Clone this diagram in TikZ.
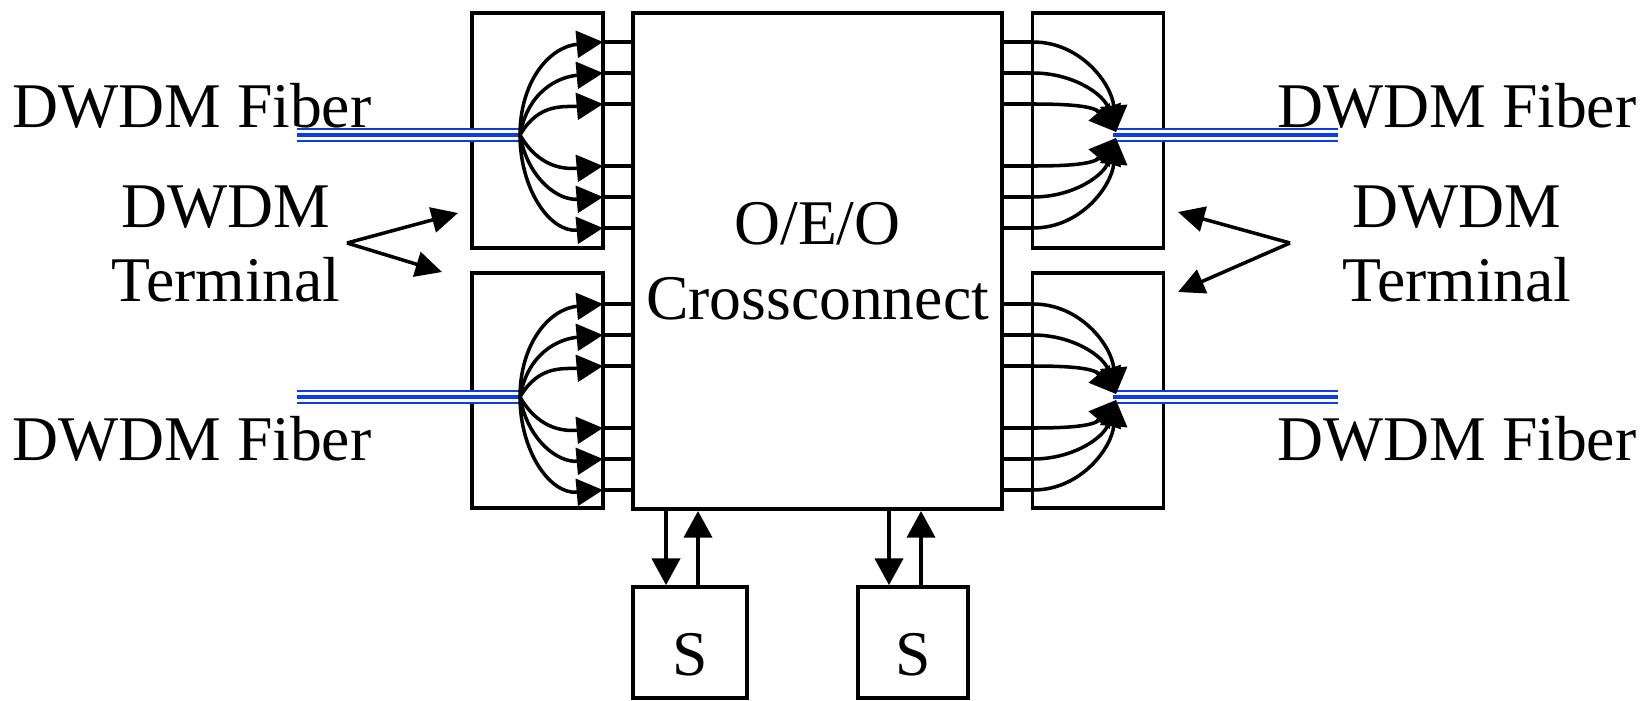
\documentclass[tikz,border=0pt]{standalone}
\usepackage{fontspec}
\setmainfont{Liberation Serif}
\usetikzlibrary{arrows.meta, calc}
\definecolor{FIblue}{HTML}{0A3DE6}
\tikzset{
  tbox/.style={rectangle, draw, line width=1.05pt, minimum width=1.31cm,
    minimum height=2.35cm, inner sep=0pt},
  oxcbox/.style={rectangle, draw, line width=1.05pt, minimum width=3.69cm,
    minimum height=4.96cm, align=center, inner sep=0pt},
  sbox/.style={rectangle, draw, line width=1.05pt, minimum height=1.11cm,
    text height=0.65cm, text depth=0pt, inner sep=0pt},
  lbl/.style={inner sep=0pt},
  fiber/.style={draw=FIblue, line width=4.2pt,
    postaction={draw=white, line width=2.75pt},
    postaction={draw=FIblue, line width=1.4pt}},
  portln/.style={line width=1.05pt},
  fanarr/.style={-{Triangle[length=7.5pt,width=7.6pt]}, line width=1pt},
  sarr/.style={-{Triangle[length=7.6pt,width=8pt]}, line width=1.05pt},
  lblarr/.style={-{Triangle[length=7.5pt,width=7.2pt]}, line width=1pt},
}

\begin{document}
\begin{tikzpicture}[x=0.01cm, y=-0.01cm, font=\fontsize{18.1pt}{21.3pt}\selectfont]
  \useasboundingbox (0,0) rectangle (1652,700);
  \node[oxcbox] (oxc) at (817.5,261) {O/E/O\\Crossconnect};
  \node[tbox] (tlu) at (537.5,130.5) {};
  \node[tbox] (tll) at (537.5,390.5) {};
  \node[tbox] (tru) at (1098,130.5) {};
  \node[tbox] (trl) at (1098,390.5) {};
  \node[sbox, minimum width=1.14cm] (s1) at (690,642.5) {S};
  \node[sbox, minimum width=1.10cm] (s2) at (913,642.5) {S};

  \node[lbl, anchor=base] (fiblu) at (192,127) {DWDM Fiber};
  \node[lbl, anchor=base] (fibll) at (192,460) {DWDM Fiber};
  \node[lbl, anchor=base] (fibru) at (1457,127) {DWDM Fiber};
  \node[lbl, anchor=base] (fibrl) at (1457,460) {DWDM Fiber};
  \node[lbl, align=center] (terml) at (226,244) {DWDM\\Terminal};
  \node[lbl, align=center] (termr) at (1457,244) {DWDM\\Terminal};

  \foreach \t/\fy in {lu/135, ll/397} {
    \coordinate (fan\t) at (520,\fy);
    \coordinate (end\t) at (297,\fy);
    \draw[fiber] (end\t) -- (fan\t);
    \foreach \dy/\ang in {-93/90, -62/80, -31/60, 31/-60, 62/-80, 93/-90} {
      \coordinate (port) at (603,\fy+\dy);
      \draw[fanarr] (fan\t) to[out=\ang, in=185, looseness=1.1] (port);
      \draw[portln] (port) -- (oxc.west |- port);
    }
  }
  \foreach \t/\fy in {ru/135, rl/397} {
    \coordinate (fan\t) at (1113,\fy);
    \coordinate (end\t) at (1338,\fy);
    \draw[fiber] (fan\t) -- (end\t);
    \foreach \dy/\ang/\ey in {-93/95/-3, -62/108/-3, -31/130/-3, 31/-130/3, 62/-108/3, 93/-95/3} {
      \coordinate (port) at (1033,\fy+\dy);
      \draw[portln] (oxc.east |- port) -- (port);
      \draw[fanarr] (port) to[out=0, in=\ang] ($(fan\t)+(3,\ey)$);
    }
  }

  \coordinate (vtxl) at (347,243);
  \coordinate (vtxr) at (1290,243);
  \coordinate (ptlu) at (458,213);
  \coordinate (ptll) at (442,272);
  \coordinate (ptru) at (1178,212);
  \coordinate (ptrl) at (1178,292);
  \draw[lblarr] (vtxl) -- (ptlu);
  \draw[lblarr] (vtxl) -- (ptll);
  \draw[lblarr] (vtxr) -- (ptru);
  \draw[lblarr] (vtxr) -- (ptrl);

  \foreach \s in {s1, s2} {
    \coordinate (\s dn) at ($(\s.north)+(-24,0)$);
    \coordinate (\s up) at ($(\s.north)+(8,0)$);
    \draw[sarr] (\s dn |- oxc.south) -- (\s dn);
    \draw[sarr] (\s up) -- (\s up |- oxc.south);
  }
\end{tikzpicture}
\end{document}
